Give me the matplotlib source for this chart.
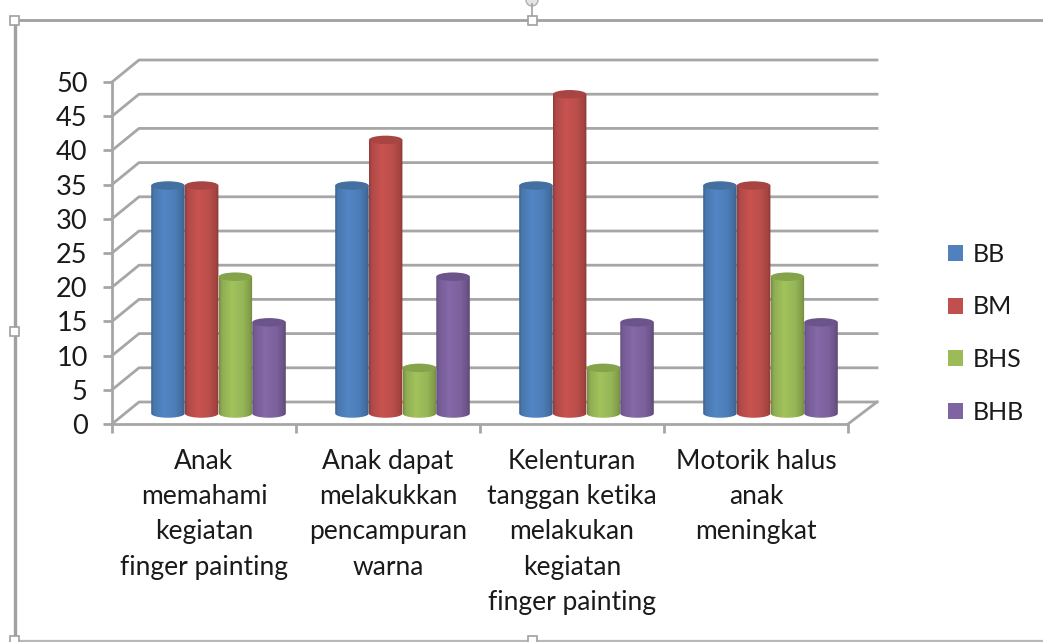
import numpy as np
import matplotlib
matplotlib.use("Agg")
import matplotlib.pyplot as plt
from matplotlib.patches import Ellipse, Polygon, Rectangle, Circle, Patch
from matplotlib.lines import Line2D

categories = ["Anak\nmemahami\nkegiatan\nfinger painting",
              "Anak dapat\nmelakukkan\npencampuran\nwarna",
              "Kelenturan\ntanggan ketika\nmelakukan\nkegiatan\nfinger painting",
              "Motorik halus\nanak\nmeningkat"]
series_names = ["BB", "BM", "BHS", "BHB"]
BB = [33.33, 33.33, 33.33, 33.33]
BM = [33.33, 40.0, 46.67, 33.33]
BHS = [20.0, 6.67, 6.67, 20.0]
BHB = [13.33, 20.0, 13.33, 13.33]
yticks = list(range(0, 51, 5))
colors = ["#4F81BD", "#C0504D", "#9BBB59", "#8064A2"]
top_colors = ["#44709F", "#A84542", "#84A34A", "#6A5489"]

plt.rcParams['font.family'] = ['Lato', 'DejaVu Sans']
W, H = 1043, 642
fig = plt.figure(figsize=(W / 100, H / 100), dpi=100, facecolor='white')

L, R, B, T = 112, 848, 424, 82
ax = fig.add_axes([L / W, (H - B) / H, (R - L) / W, (B - T) / H])
ax.set_xlim(0, 4)
ax.set_ylim(0, 50)
ax.patch.set_alpha(0)
px = (R - L) / 4
py = (B - T) / 50
GRID = '#a6a6a6'
LW = 2.0
txt = '#1a1a1a'

# depth of the back wall and of the bar row
dx_back, dy_back = 27 / px, 22 / py
dx_mid, dy_mid = 14.5 / px, 10.5 / py
x_right_back = 4 + 29 / px

for v in yticks:
    ax.plot([0, dx_back, x_right_back], [v, v + dy_back, v + dy_back], color=GRID, lw=LW,
            clip_on=False, zorder=1, solid_joinstyle='round')
ax.plot([4, x_right_back], [0, dy_back], color=GRID, lw=LW, clip_on=False, zorder=1)

for s in ['top', 'right']:
    ax.spines[s].set_visible(False)
for s in ['left', 'bottom']:
    ax.spines[s].set_color(GRID)
    ax.spines[s].set_linewidth(LW)
    ax.spines[s].set_zorder(1.5)

ax.set_yticks(yticks)
ax.tick_params(axis='y', length=6.5, width=LW, color=GRID, pad=11, labelsize=19.5, labelcolor=txt)
ax.set_xticks(range(5))
ax.set_xticklabels([])
ax.set_xticks(np.arange(4) + 0.5, categories, minor=True)
ax.tick_params(axis='x', which='major', length=6.5, width=LW, color=GRID)
ax.tick_params(axis='x', which='minor', length=0, pad=18, labelsize=19, labelcolor=txt)
for lab in ax.get_xticklabels(minor=True):
    lab.set_linespacing(1.51)
    lab.set_multialignment('center')

# cylinders
spacing = 33.7 / px
bar_w = 33.5 / px
ell_h = 8.5 / py
stops_t = [0, .08, .38, .72, .92, 1]
stops_f = [.76, .92, 1.04, .97, .84, .72]
tt = np.linspace(0, 1, 64)
ff = np.interp(tt, stops_t, stops_f)
theta = np.linspace(np.pi, 2 * np.pi, 40)

for i, (name, vals) in enumerate(zip(series_names, [BB, BM, BHS, BHB])):
    rgb = np.array(matplotlib.colors.to_rgb(colors[i]))
    grad = np.clip(ff[None, :, None] * rgb[None, None, :], 0, 1)
    for c, v in enumerate(vals):
        xc = c + 0.5 + (i - 1.5) * spacing + dx_mid
        y0 = dy_mid
        y1 = dy_mid + v
        xs = np.r_[xc - bar_w / 2, xc + bar_w / 2 * np.cos(theta), xc + bar_w / 2]
        ys = np.r_[y1, y0 + ell_h / 2 * np.sin(theta), y1]
        clip = Polygon(np.c_[xs, ys], closed=True, transform=ax.transData)
        im = ax.imshow(grad, extent=[xc - bar_w / 2, xc + bar_w / 2, y0 - ell_h, y1],
                       aspect='auto', interpolation='bilinear', zorder=2 + i * 0.1 + c)
        im.set_clip_path(clip)
        ax.add_patch(Ellipse((xc, y1), bar_w, ell_h, facecolor=top_colors[i], edgecolor='none',
                             zorder=2.05 + i * 0.1 + c, clip_on=False))
ax.set_xlim(0, 4)
ax.set_ylim(0, 50)

# legend
handles = [Patch(facecolor=c, edgecolor='none', label=n) for c, n in zip(colors, series_names)]
fig.legend(handles=handles, loc='upper left', bbox_to_anchor=(938 / W, 1 - 233 / H),
           frameon=False, fontsize=18, labelcolor=txt, handlelength=0.6, handleheight=0.6,
           handletextpad=0.4, labelspacing=1.18, borderaxespad=0, borderpad=0.4)

# chart selection frame
ov = fig.add_axes([0, 0, 1, 1], zorder=10)
ov.set_xlim(0, W)
ov.set_ylim(H, 0)
ov.axis('off')
ov.patch.set_alpha(0)
fc = '#a0a0a0'
ov.add_line(Line2D([14.5, 14.5], [20, H], color=fc, lw=2.4))
ov.add_line(Line2D([14.5, W], [20, 20], color=fc, lw=2.0))
ov.add_line(Line2D([14.5, W], [641, 641], color='#b8b8b8', lw=1.6))
ov.add_line(Line2D([532, 532], [4, 16], color=fc, lw=1.2))
ov.add_patch(Circle((532, 0), 6, facecolor='#e4e4e4', edgecolor='#b0b0b0', lw=1))
for hx, hy in [(14, 20), (532, 20), (14, 331), (14, 640), (532, 640)]:
    ov.add_patch(Rectangle((hx - 4.5, hy - 4.5), 9, 9, facecolor='white', edgecolor='#a0a0a0', lw=1.2, zorder=5))

fig.savefig("out.png", dpi=100, facecolor='white')
